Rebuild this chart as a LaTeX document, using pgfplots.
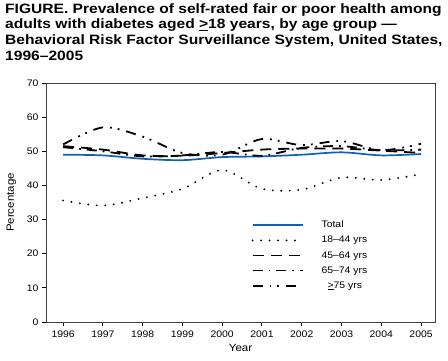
\documentclass[border=0pt]{standalone}
\usepackage{pgfplots}
\pgfplotsset{compat=1.18}
\usepackage{fontspec}
\setmainfont{Liberation Sans}
\definecolor{totblue}{RGB}{20,95,175}
\begin{document}
\begin{tikzpicture}[x=1bp,y=1bp]
\useasboundingbox (-46,-38) rectangle (402,322);
\node[anchor=north west, inner sep=0pt, align=left, font=\fontsize{13.6}{16}\selectfont\bfseries\addfontfeature{FakeStretch=1.15}] at (-41,319)
{FIGURE. Prevalence of self-rated fair or poor health among\\
adults with diabetes aged \underline{>}18 years, by age group ---\\
Behavioral Risk Factor Surveillance System, United States,\\
1996--2005};
\begin{axis}[
  at={(0,0)}, anchor=south west,
  scale only axis, width=389bp, height=239bp,
  xmin=1995.57, xmax=2005.35, ymin=0, ymax=70,
  xtick={1996,...,2005}, ytick={0,10,...,70},
  xtick pos=bottom, ytick pos=left, tick align=outside,
  major tick length=4bp,
  axis line style={black!75, line width=0.8bp},
  every tick/.style={black, line width=1bp},
  /pgf/number format/assume math mode=true,
  x tick label style={/pgf/number format/1000 sep={}, font=\fontsize{9.5}{10}\selectfont\addfontfeature{FakeStretch=1.1}, yshift=-1bp},
  y tick label style={font=\fontsize{9.5}{10}\selectfont\addfontfeature{FakeStretch=1.1}},
  xlabel={Year}, ylabel={Percentage},
  label style={font=\fontsize{10.5}{11}\selectfont\addfontfeature{FakeStretch=1.1}},
  xlabel style={yshift=0bp},
  ylabel style={yshift=4bp},
  legend style={draw=none, fill=none, at={(0.52,0.44)}, anchor=north west,
    font=\fontsize{9.5}{10}\selectfont\addfontfeature{FakeStretch=1.1}, row sep=3bp},
  legend cell align=left,
  legend image code/.code={\draw[#1] (0bp,0bp) -- (50bp,0bp);},
]
\addlegendimage{color=totblue, line width=1.7bp}
\addlegendentry{\hspace{16bp}Total}
\addlegendimage{black, line width=2.1bp, line cap=round, dash pattern=on 0bp off 8.5bp}
\addlegendentry{\hspace{16bp}18--44 yrs}
\addlegendimage{black, line width=1.8bp, dash pattern=on 11bp off 7bp}
\addlegendentry{\hspace{16bp}45--64 yrs}
\addlegendimage{black, line width=1.8bp, dash pattern=on 10bp off 6bp on 1.8bp off 6bp}
\addlegendentry{\hspace{16bp}65--74 yrs}
\addlegendimage{black, line width=1.8bp, dash pattern=on 10bp off 7bp on 1.8bp off 6bp on 1.8bp off 7bp}
\addlegendentry{\hspace{22bp}\underline{>}75 yrs}
\addplot[totblue, line width=1.7bp, smooth, tension=0.5, forget plot] coordinates {
(1996,49.0)(1997,48.8)(1998,47.8)(1999,47.4)(2000,48.3)(2001,48.5)(2002,49.0)(2003,49.7)(2004,48.8)(2005,49.2)};
\addplot[black, line width=2.1bp, line cap=round, dash pattern=on 0bp off 8.5bp, smooth, tension=0.5, forget plot] coordinates {
(1996,35.6)(1997,34.1)(1998,36.3)(1999,39.0)(2000,44.5)(2001,39.0)(2002,38.8)(2003,42.3)(2004,41.6)(2005,43.3)};
\addplot[black, line width=1.8bp, dash pattern=on 11bp off 7bp, smooth, tension=0.5, forget plot] coordinates {
(1996,51.5)(1997,50.5)(1998,48.8)(1999,48.7)(2000,49.5)(2001,50.5)(2002,50.8)(2003,50.8)(2004,50.2)(2005,49.5)};
\addplot[black, line width=1.8bp, dash pattern=on 10bp off 6bp on 1.8bp off 6bp, smooth, tension=0.5, forget plot] coordinates {
(1996,51.2)(1997,50.0)(1998,48.5)(1999,48.8)(2000,49.8)(2001,48.7)(2002,51.0)(2003,51.5)(2004,50.3)(2005,50.5)};
\addplot[black, line width=1.8bp, dash pattern=on 10bp off 7bp on 1.8bp off 6bp on 1.8bp off 7bp, smooth, tension=0.5, forget plot] coordinates {
(1996,52.0)(1997,57.0)(1998,54.3)(1999,49.5)(2000,49.0)(2001,53.6)(2002,51.8)(2003,53.0)(2004,50.3)(2005,52.2)};
\end{axis}
\end{tikzpicture}
\end{document}
